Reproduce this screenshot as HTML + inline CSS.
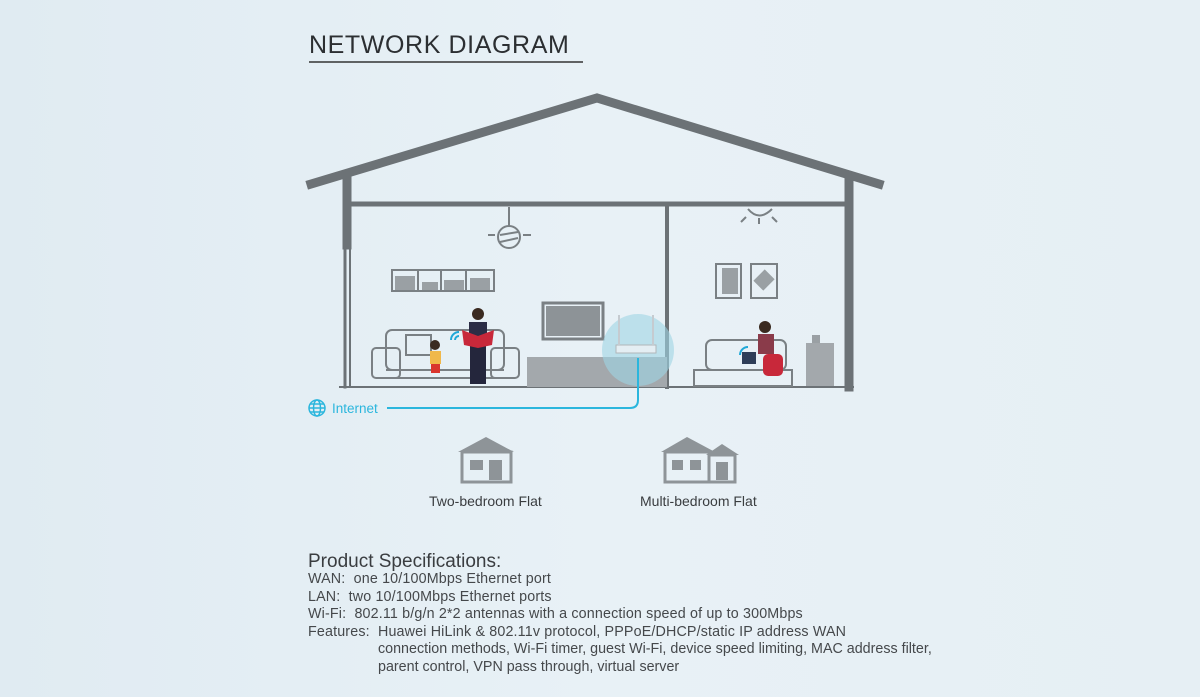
<!DOCTYPE html>
<html><head><meta charset="utf-8"><style>
html,body{margin:0;padding:0}
body{width:1200px;height:697px;overflow:hidden;background:linear-gradient(90deg,#e0ebf2 0%,#e8f1f6 50%,#e6eff4 100%);font-family:"Liberation Sans",sans-serif;position:relative}
.t{position:absolute;color:#3a3d40;white-space:nowrap}
</style></head><body>
<svg width="1200" height="697" style="position:absolute;left:0;top:0">
<g stroke="#6c7276" fill="none" stroke-linecap="square">
<polyline points="311,184 597,98 879,184" stroke-width="9" stroke-linejoin="miter"/>
<line x1="347" y1="180" x2="347" y2="245" stroke-width="9"/>
<line x1="345" y1="245" x2="345" y2="387" stroke-width="3"/>
<line x1="350" y1="245" x2="350" y2="387" stroke-width="2"/>
<line x1="849" y1="180" x2="849" y2="387" stroke-width="9"/>
<line x1="347" y1="204" x2="849" y2="204" stroke-width="5"/>
<line x1="667" y1="204" x2="667" y2="387" stroke-width="4"/>
<line x1="340" y1="387" x2="853" y2="387" stroke-width="2"/>
</g>
<g stroke="#7a8084" fill="none" stroke-width="2">
<line x1="509" y1="207" x2="509" y2="226"/><circle cx="509" cy="237" r="11"/>
<line x1="500" y1="235" x2="518" y2="232"/><line x1="500" y1="242" x2="518" y2="238"/>
<line x1="488" y1="235" x2="495" y2="235"/><line x1="523" y1="235" x2="531" y2="235"/>
<path d="M748,209 Q759,222 772,209" /><line x1="759" y1="218" x2="759" y2="224"/>
<line x1="746" y1="217" x2="741" y2="222"/><line x1="772" y1="217" x2="777" y2="222"/>
<rect x="392" y="270" width="102" height="21"/><line x1="418" y1="270" x2="418" y2="291"/><line x1="441" y1="270" x2="441" y2="291"/><line x1="466" y1="270" x2="466" y2="291"/>
<rect x="716" y="264" width="25" height="34"/><rect x="751" y="264" width="26" height="34"/>
<rect x="386" y="330" width="118" height="40" rx="6"/><rect x="372" y="348" width="28" height="30" rx="4"/><rect x="491" y="348" width="28" height="30" rx="4"/>
<line x1="386" y1="370" x2="504" y2="370"/><line x1="386" y1="378" x2="504" y2="378"/>
<rect x="406" y="335" width="25" height="20"/>
<rect x="543" y="303" width="60" height="36" stroke-width="3"/>
<rect x="706" y="340" width="80" height="30" rx="6"/><rect x="694" y="370" width="98" height="16"/>
</g>
<g fill="#9aa0a4">
<rect x="722" y="268" width="16" height="26"/><rect x="757" y="272" width="14" height="16" transform="rotate(45 764 280)"/>
<rect x="546" y="306" width="54" height="30" fill="#8d9397"/>
<rect x="527" y="357" width="140" height="30" fill="#a3a8ac"/>
<rect x="806" y="343" width="28" height="43" fill="#a3a8ac"/><rect x="812" y="335" width="8" height="8"/>
<rect x="395" y="276" width="20" height="14"/><rect x="444" y="280" width="20" height="10"/><rect x="470" y="278" width="20" height="12"/><rect x="422" y="282" width="16" height="8"/>
</g>
<circle cx="638" cy="350" r="36" fill="#9fd6e4" opacity="0.6"/>
<rect x="616" y="345" width="40" height="8" fill="#e4eef3" stroke="#b0b6ba"/>
<line x1="619" y1="345" x2="619" y2="315" stroke="#c5cbd0" stroke-width="2"/><line x1="653" y1="345" x2="653" y2="315" stroke="#c5cbd0" stroke-width="2"/>
<g>
<circle cx="478" cy="314" r="6" fill="#3a2a20"/><rect x="469" y="322" width="18" height="22" fill="#2b2d45"/><rect x="470" y="344" width="16" height="40" fill="#24263c"/>
<path d="M462,330 L478,336 L494,330 L492,345 L478,348 L464,345Z" fill="#c8283a"/>
<circle cx="435" cy="345" r="5" fill="#3a2a20"/><rect x="430" y="351" width="11" height="13" fill="#f0b84a"/><rect x="431" y="364" width="9" height="9" fill="#d9352d"/>
<circle cx="765" cy="327" r="6" fill="#3a2a20"/><rect x="758" y="334" width="16" height="20" fill="#8a3b4a"/><rect x="763" y="354" width="20" height="22" rx="5" fill="#c8283a"/>
<rect x="742" y="352" width="14" height="12" fill="#2e3d58"/>
</g>
<g stroke="#1fa8d8" fill="none" stroke-width="2">
<path d="M451,340 a8,8 0 0 1 8,-8"/><path d="M455,340 a4,4 0 0 1 4,-4"/>
<path d="M740,355 a8,8 0 0 1 8,-8"/>
</g>
<path d="M387,408 L630,408 Q638,408 638,400 L638,358" stroke="#2bb6dd" stroke-width="2" fill="none"/>
<g stroke="#2bb6dd" fill="none" stroke-width="1.5"><circle cx="317" cy="408" r="8"/><ellipse cx="317" cy="408" rx="3.5" ry="8"/><line x1="309" y1="408" x2="325" y2="408"/><line x1="310" y1="404" x2="324" y2="404"/><line x1="310" y1="412" x2="324" y2="412"/></g>
<g fill="#8e9498">
<polygon points="458,452 486,437 514,452"/><rect x="462" y="452" width="49" height="30" fill="none" stroke="#8e9498" stroke-width="3"/><rect x="470" y="460" width="13" height="10"/><rect x="489" y="460" width="13" height="20"/>
<polygon points="661,452 687,437 715,452"/><polygon points="706,455 722,444 739,455"/>
<rect x="665" y="452" width="44" height="30" fill="none" stroke="#8e9498" stroke-width="3"/><rect x="709" y="455" width="26" height="27" fill="none" stroke="#8e9498" stroke-width="3"/>
<rect x="672" y="460" width="11" height="10"/><rect x="690" y="460" width="11" height="10"/><rect x="716" y="462" width="12" height="18"/>
</g>
<line x1="309" y1="62" x2="583" y2="62" stroke="#333" stroke-width="1.5"/>
</svg>
<div class="t" style="left:309px;top:31px;font-size:25px;letter-spacing:0.6px;color:#2c2f32">NETWORK DIAGRAM</div>
<div class="t" style="left:332px;top:401px;font-size:13.5px;color:#2bb6dd">Internet</div>
<div class="t" style="left:429px;top:493px;font-size:14px">Two-bedroom Flat</div>
<div class="t" style="left:640px;top:493px;font-size:14px">Multi-bedroom Flat</div>
<div class="t" style="left:308px;top:551px;font-size:19px">Product Specifications:</div>
<div class="t" style="left:308px;top:571px;font-size:14.3px;line-height:17.5px;letter-spacing:0.15px;color:#45484b">WAN:&nbsp; one 10/100Mbps Ethernet port<br>LAN:&nbsp; two 10/100Mbps Ethernet ports<br>Wi-Fi:&nbsp; 802.11 b/g/n 2*2 antennas with a connection speed of up to 300Mbps<br>Features:&nbsp; Huawei HiLink &amp; 802.11v protocol, PPPoE/DHCP/static IP address WAN</div>
<div class="t" style="left:378px;top:641px;font-size:14.3px;line-height:17.5px;color:#45484b">connection methods, Wi-Fi timer, guest Wi-Fi, device speed limiting, MAC address filter,<br>parent control, VPN pass through, virtual server</div>
</body></html>
